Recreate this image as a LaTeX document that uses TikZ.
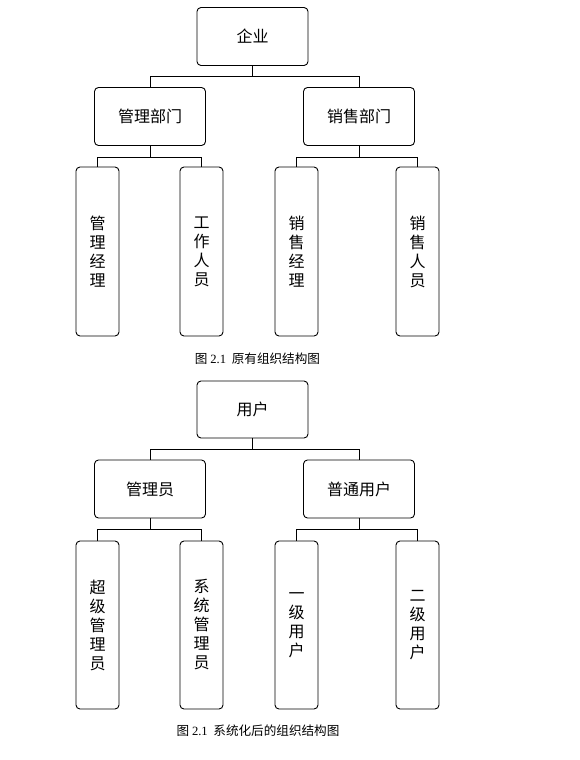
\documentclass[tikz,border=0pt]{standalone}
\usepackage{fontspec}
\setmainfont{Liberation Serif}
\newfontfamily\cjk{Noto Sans CJK SC}
\usetikzlibrary{positioning}

\begin{document}
\begin{tikzpicture}[x=1pt, y=-1pt]
		\tikzstyle{every node}=[font=\cjk\fontsize{16}{19}\selectfont]
		\tikzstyle{unit}=[draw, line width=0.9pt, rounded corners=4pt, minimum width=111pt, minimum height=58pt, inner sep=0pt]
		\tikzstyle{leaf}=[draw, line width=0.9pt, rounded corners=4pt, minimum width=43pt, minimum height=169pt, inner sep=0pt, align=center]
		\tikzstyle{link}=[line width=0.9pt]
		\tikzstyle{caption}=[font=\cjk\fontsize{12.6}{15}\selectfont]
		\useasboundingbox (0,0) rectangle (580,760);
		% original structure
		\node [unit] (qy) at (252.5,36.5) {企业};
		\node [unit] (glbm) at (150,116.5) {管理部门};
		\node [unit] (xsbm) at (359,116.5) {销售部门};
		\node [leaf] (gljl) at (97.5,251.5) {管\\理\\经\\理};
		\node [leaf] (gzry) at (201.5,251.5) {工\\作\\人\\员};
		\node [leaf] (xsjl) at (296.5,251.5) {销\\售\\经\\理};
		\node [leaf] (xsry) at (417.5,251.5) {销\\售\\人\\员};
		\draw [link] (qy.south) -- ++(0,10) -| (glbm.north);
		\draw [link] (qy.south) -- ++(0,10) -| (xsbm.north);
		\draw [link] (glbm.south) -- ++(0,11) -| (gljl.north);
		\draw [link] (glbm.south) -- ++(0,11) -| (gzry.north);
		\draw [link] (xsbm.south) -- ++(0,11) -| (xsjl.north);
		\draw [link] (xsbm.south) -- ++(0,11) -| (xsry.north);
		\node [caption] (cap1) at (257.5,359) {图 {\rmfamily 2.1}\ \ 原有组织结构图};
		% after systematization
		\node [unit, minimum height=57pt] (yh) at (252.5,409.5) {用户};
		\node [unit] (gly) at (150,489) {管理员};
		\node [unit] (ptyh) at (359,489) {普通用户};
		\node [leaf, minimum height=168pt] (cjgly) at (97.5,625) {超\\级\\管\\理\\员};
		\node [leaf, minimum height=168pt] (xtgly) at (201.5,625) {系\\统\\管\\理\\员};
		\node [leaf, minimum height=168pt] (yjyh) at (296.5,625) {一\\级\\用\\户};
		\node [leaf, minimum height=168pt] (ejyh) at (417.5,625) {二\\级\\用\\户};
		\draw [link] (yh.south) -- ++(0,11) -| (gly.north);
		\draw [link] (yh.south) -- ++(0,11) -| (ptyh.north);
		\draw [link] (gly.south) -- ++(0,11) -| (cjgly.north);
		\draw [link] (gly.south) -- ++(0,11) -| (xtgly.north);
		\draw [link] (ptyh.south) -- ++(0,11) -| (yjyh.north);
		\draw [link] (ptyh.south) -- ++(0,11) -| (ejyh.north);
		\node [caption] (cap2) at (258,731) {图 {\rmfamily 2.1}\ \ 系统化后的组织结构图};
\end{tikzpicture}
\end{document}
